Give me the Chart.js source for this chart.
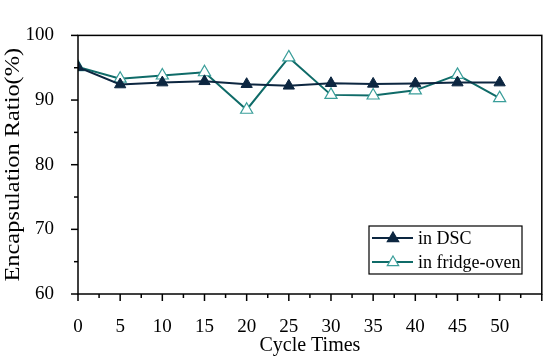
<!DOCTYPE html>
<html>
<head>
<meta charset="utf-8">
<script src="https://cdn.jsdelivr.net/npm/chart.js@4/dist/chart.umd.min.js"></script>
<style>
html,body{margin:0;padding:0;background:#fff;}
#wrap{width:550px;height:360px;position:relative;}
</style>
</head>
<body>
<div id="wrap"><canvas id="c" width="550" height="360"></canvas></div>
<script>
const cycles = [0, 5, 10, 15, 20, 25, 30, 35, 40, 45, 50];
const dscValues = [95.1, 92.4, 92.7, 92.9, 92.45, 92.2, 92.6, 92.5, 92.55, 92.7, 92.7];
const fridgeValues = [95.1, 93.3, 93.8, 94.3, 88.5, 96.6, 90.8, 90.7, 91.5, 93.9, 90.3];
const seriesNames = ["in DSC", "in fridge-oven"];
const xTicks = [0, 5, 10, 15, 20, 25, 30, 35, 40, 45, 50];
const yTicks = [60, 70, 80, 90, 100];
const xTitle = "Cycle Times";
const yTitle = "Encapsulation Ratio(%)";

const FONT = "'Liberation Serif', 'DejaVu Serif', serif";
const DSC_COLOR = "#0c2640";
const FRIDGE_LINE = "#0f6b68";
const FRIDGE_MARK = "#3a9e9a";

const frame = {
  id: 'frame',
  afterDraw(chart) {
    const ctx = chart.ctx, a = chart.chartArea;
    const xs = chart.scales.x, ys = chart.scales.y;
    ctx.save();
    ctx.strokeStyle = '#000';
    ctx.lineWidth = 1.5;
    ctx.strokeRect(a.left, a.top, a.right - a.left, a.bottom - a.top);
    for (let v = xs.min; v <= xs.max + 1e-9; v += 2.5) {
      const px = xs.getPixelForValue(v);
      const major = Math.abs(v / 5 - Math.round(v / 5)) < 1e-6;
      ctx.beginPath();
      ctx.moveTo(px, a.bottom);
      ctx.lineTo(px, a.bottom + (major ? 7 : 4));
      ctx.stroke();
    }
    for (let v = ys.min; v <= ys.max + 1e-9; v += 5) {
      const py = ys.getPixelForValue(v);
      const major = Math.abs(v / 10 - Math.round(v / 10)) < 1e-6;
      ctx.beginPath();
      ctx.moveTo(a.left, py);
      ctx.lineTo(a.left - (major ? 7 : 4), py);
      ctx.stroke();
    }
    // y title (slightly stretched along its length, like the reference)
    ctx.save();
    ctx.translate(14, (a.top + a.bottom) / 2);
    ctx.rotate(-Math.PI / 2);
    ctx.scale(1.22, 1);
    ctx.fillStyle = '#000';
    ctx.font = "20px " + FONT;
    ctx.textAlign = 'center';
    ctx.textBaseline = 'middle';
    ctx.fillText(yTitle, 0, 0);
    ctx.restore();
    // legend
    const lx = 369, ly = 226, lw = 153, lh = 48;
    ctx.fillStyle = '#fff';
    ctx.fillRect(lx, ly, lw, lh);
    ctx.lineWidth = 1.2;
    ctx.strokeStyle = '#000';
    ctx.strokeRect(lx, ly, lw, lh);
    const items = [
      {name: seriesNames[0], line: DSC_COLOR, fill: DSC_COLOR, stroke: DSC_COLOR, y: ly + 12},
      {name: seriesNames[1], line: FRIDGE_LINE, fill: '#fff', stroke: FRIDGE_MARK, y: ly + 36}
    ];
    items.forEach(it => {
      ctx.strokeStyle = it.line;
      ctx.lineWidth = 2;
      ctx.beginPath();
      ctx.moveTo(lx + 3, it.y);
      ctx.lineTo(lx + 44, it.y);
      ctx.stroke();
      const cx = lx + 24, r = 6;
      ctx.beginPath();
      ctx.moveTo(cx, it.y - r);
      ctx.lineTo(cx + r * 0.95, it.y + r * 0.6);
      ctx.lineTo(cx - r * 0.95, it.y + r * 0.6);
      ctx.closePath();
      ctx.fillStyle = it.fill;
      ctx.fill();
      ctx.strokeStyle = it.stroke;
      ctx.lineWidth = 1.2;
      ctx.stroke();
      ctx.fillStyle = '#000';
      ctx.font = "18px " + FONT;
      ctx.textBaseline = 'middle';
      ctx.textAlign = 'left';
      ctx.fillText(it.name, lx + 49, it.y + 1);
    });
    ctx.restore();
  }
};

const toPts = (vals) => cycles.map((c, i) => ({x: c, y: vals[i]}));

new Chart(document.getElementById('c'), {
  type: 'line',
  data: {
    datasets: [
      {
        label: seriesNames[0],
        data: toPts(dscValues),
        borderColor: DSC_COLOR,
        backgroundColor: DSC_COLOR,
        pointBackgroundColor: DSC_COLOR,
        pointBorderColor: DSC_COLOR,
        pointStyle: 'triangle',
        pointRadius: 6.5,
        pointBorderWidth: 1,
        borderWidth: 2,
        tension: 0
      },
      {
        label: seriesNames[1],
        data: toPts(fridgeValues),
        borderColor: FRIDGE_LINE,
        backgroundColor: '#fff',
        pointBackgroundColor: '#fff',
        pointBorderColor: FRIDGE_MARK,
        pointStyle: 'triangle',
        pointRadius: 7,
        pointBorderWidth: 1.2,
        borderWidth: 2,
        tension: 0
      }
    ]
  },
  options: {
    responsive: false,
    animation: false,
    layout: {padding: {top: 14, right: 8, left: 0, bottom: 0}},
    plugins: {legend: {display: false}, tooltip: {enabled: false}},
    scales: {
      x: {
        type: 'linear',
        min: 0, max: 55,
        afterBuildTicks: (s) => { s.ticks = xTicks.map(v => ({value: v})); },
        afterFit: (s) => { s.height = 66; },
        grid: {display: false, drawTicks: false},
        border: {display: false},
        ticks: {color: '#000', font: {family: FONT, size: 19}, padding: 22, maxRotation: 0, autoSkip: false},
        title: {display: true, text: xTitle, color: '#000', font: {family: FONT, size: 20}, padding: {top: 0, bottom: 2}}
      },
      y: {
        min: 60, max: 100,
        afterBuildTicks: (s) => { s.ticks = yTicks.map(v => ({value: v})); },
        afterFit: (s) => { s.width = 78; },
        grid: {display: false, drawTicks: false},
        border: {display: false},
        ticks: {color: '#000', font: {family: FONT, size: 19}, padding: 24},
        title: {display: false}
      }
    }
  },
  plugins: [frame]
});
</script>
</body>
</html>
